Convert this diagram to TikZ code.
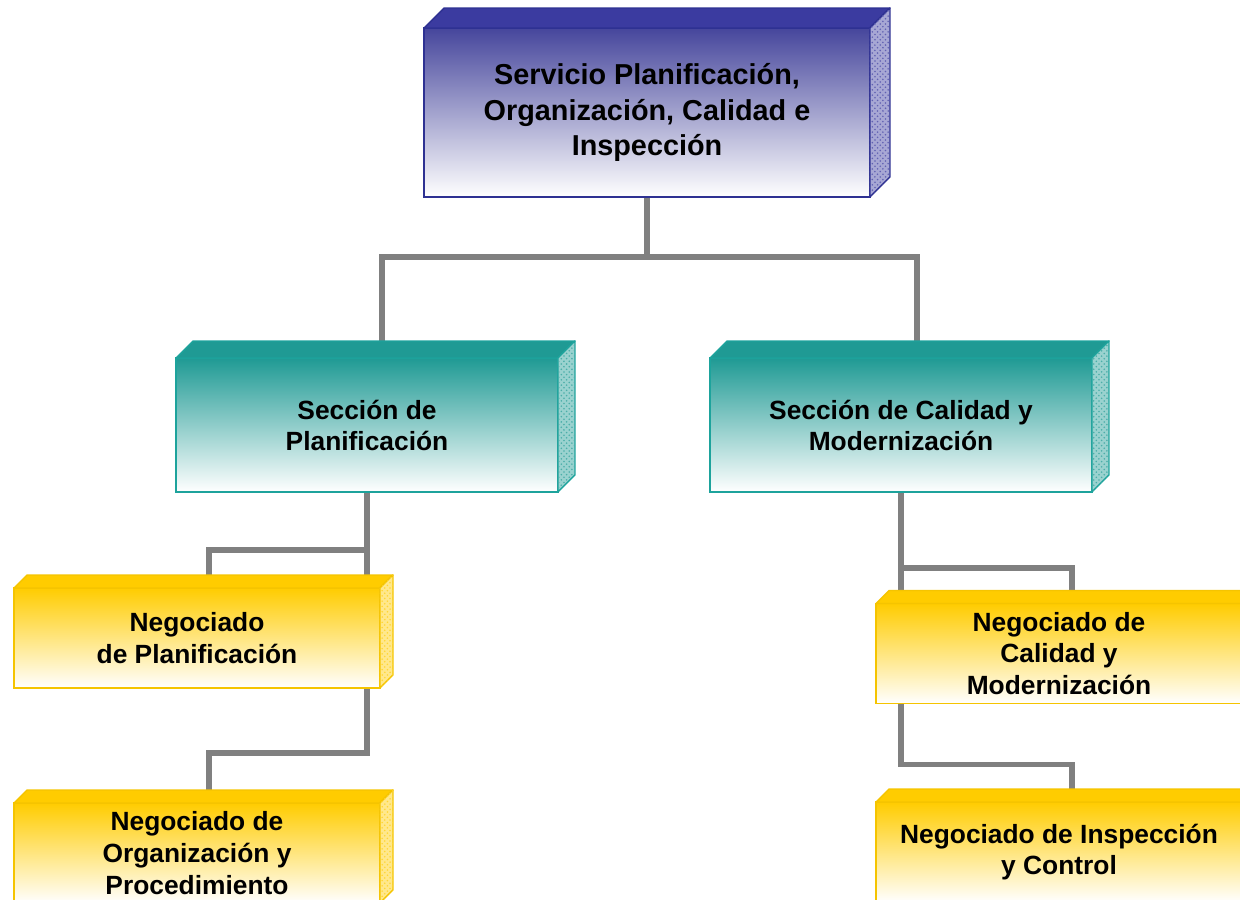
\documentclass[tikz,border=0pt]{standalone}
\usepackage{fontspec}
\setmainfont{Liberation Sans}
\usetikzlibrary{
    calc,
    positioning,
    backgrounds,
    patterns
}

\definecolor{servblue}{HTML}{46469C}
\definecolor{servline}{HTML}{2E3192}
\definecolor{servtop}{HTML}{3B3BA0}
\definecolor{secteal}{HTML}{1F9A94}
\definecolor{secline}{HTML}{1DA39C}
\definecolor{negyellow}{HTML}{FFCC00}
\definecolor{negline}{HTML}{F5C400}
\definecolor{linkgray}{HTML}{808080}

% top and side faces of a box node
\newcommand\extrudebox[4]{%
    \filldraw[fill=#3, draw=#4, line width=0.8pt, line join=round]
    (#1.north west) -- ($(#1.north west)+(#2,-#2)$) -- ($(#1.north east)+(#2,-#2)$) -- (#1.north east) -- cycle;
    \filldraw[fill=#3!45!white, draw=#4, line width=0.8pt, line join=round,
        postaction={pattern=crosshatch dots, pattern color=#3!80!white}]
    (#1.north east) -- ($(#1.north east)+(#2,-#2)$) -- ($(#1.south east)+(#2,-#2)$) -- (#1.south east) -- cycle;}

\begin{document}
\begin{tikzpicture}[x=0.02cm, y=-0.02cm,
    link/.style={draw=linkgray, line width=3pt},
    servbox/.style={draw=servline, line width=0.8pt, top color=servblue, bottom color=white,
        minimum width=8.92cm, minimum height=3.38cm, inner sep=0pt, outer sep=0pt, align=center,
        font=\fontsize{16.4}{20.4}\selectfont\bfseries},
    secbox/.style={draw=secline, line width=0.8pt, top color=secteal, bottom color=white,
        minimum width=7.64cm, minimum height=2.68cm, inner sep=0pt, outer sep=0pt, align=center,
        font=\fontsize{15}{17.6}\selectfont\bfseries},
    negbox/.style={draw=negline, line width=0.8pt, top color=negyellow, bottom color=white,
        minimum width=7.32cm, minimum height=2cm, inner sep=0pt, outer sep=0pt, align=center,
        font=\fontsize{15}{18.1}\selectfont\bfseries}]
    \useasboundingbox (0,0) rectangle (1240,899);

    \node[servbox] (serv) at (647, 112.5) {Servicio Planificación,\\Organización, Calidad e\\Inspección};
    \node[secbox] (secplan) at (367, 425) {Sección de\\Planificación};
    \node[secbox] (seccal) at (901, 425) {Sección de Calidad y\\Modernización};
    \node[negbox] (negplan) at (197, 638) {Negociado\\de Planificación};
    \node[negbox] (negorg) at (197, 853) {Negociado de\\Organización y\\Procedimiento};
    \node[negbox] (negcal) at (1059, 653.5) {Negociado de\\Calidad y\\Modernización};
    \node[negbox] (negins) at (1059, 852) {Negociado de Inspección\\y Control};

    \extrudebox{serv}{20}{servtop}{servline}
    \extrudebox{secplan}{17}{secteal}{secline}
    \extrudebox{seccal}{17}{secteal}{secline}
    \extrudebox{negplan}{13}{negyellow}{negline}
    \extrudebox{negorg}{13}{negyellow}{negline}
    \extrudebox{negcal}{13}{negyellow}{negline}
    \extrudebox{negins}{13}{negyellow}{negline}

    \begin{pgfonlayer}{background}
        \draw[link] (serv.south) -- ++(0,60) coordinate (servjoin);
        \draw[link] ($(secplan.north)+(15,0)$) |- (servjoin) -| ($(seccal.north)+(16,0)$);
        \draw[link] (secplan.south) -- (secplan.south |- negplan.north);
        \draw[link] (secplan.south) -- ++(0,58) -| ($(negplan.north)+(12,0)$);
        \draw[link] (negplan.south -| secplan.south) -- ++(0,65) -| ($(negorg.north)+(12,0)$);
        \draw[link] (seccal.south) -- (seccal.south |- negcal.north);
        \draw[link] (seccal.south) -- ++(0,76) -| ($(negcal.north)+(13,0)$);
        \draw[link] (negcal.south -| seccal.south) -- ++(0,61) -| ($(negins.north)+(13,0)$);
    \end{pgfonlayer}
\end{tikzpicture}
\end{document}
